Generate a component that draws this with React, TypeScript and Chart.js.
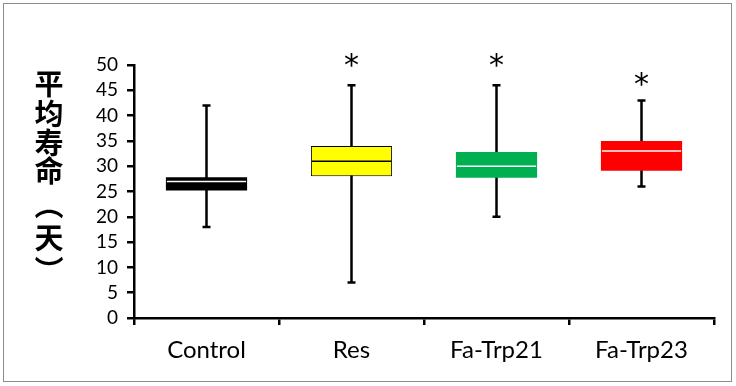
import React, { useEffect, useRef } from "react";
import { Chart, registerables } from "chart.js";
Chart.register(...registerables);

const categories = ["Control", "Res", "Fa-Trp21", "Fa-Trp23"];
const whiskerMin = [18, 7, 20, 26];
const q1 = [25.2, 28, 27.7, 29.1];
const median = [27, 31, 30, 33];
const q3 = [27.8, 34, 32.8, 35];
const whiskerMax = [42, 46, 46, 43];
const sigMarks = ["", "*", "*", "*"];
const sigY = [null, 51, 51, 47.2];
const yTicks = [0, 5, 10, 15, 20, 25, 30, 35, 40, 45, 50];
const yTitle = "平均寿命（天）";

const boxColors = ["#000000", "#FFFF00", "#00B050", "#FF0000"];
const boxBorders = ["#000000", "#000000", "#00B050", "#FF0000"];
const boxBorderWidths = [0, 1, 0, 0];
const medianColors = ["#FFFFFF", "#000000", "#FFFFFF", "#FFFFFF"];

const LABEL_FONT = "Lato, 'Open Sans', sans-serif";

const boxPlugin = {
  id: "boxExtras",
  beforeDraw(chart: any) {
    const ctx = chart.ctx;
    ctx.save();
    ctx.fillStyle = "#ffffff";
    ctx.fillRect(0, 0, chart.width, chart.height);
    ctx.strokeStyle = "#8c8c8c";
    ctx.lineWidth = 1;
    ctx.strokeRect(3.5, 3.5, 728, 378);
    // vertical y-axis title, upright stacked characters
    const chars = Array.from(yTitle);
    const centers = [84, 114, 143, 171, 205, 238, 270];
    ctx.fillStyle = "#000000";
    ctx.font = "bold 29px 'Noto Sans CJK SC', sans-serif";
    ctx.textAlign = "center";
    ctx.textBaseline = "middle";
    chars.forEach((ch, i) => {
      const cy = centers[i];
      if (ch === "（" || ch === "）") {
        ctx.save();
        ctx.translate(49, cy);
        ctx.rotate(Math.PI / 2);
        ctx.fillText(ch, 0, 0);
        ctx.restore();
      } else {
        ctx.fillText(ch, 49, cy);
      }
    });
    ctx.restore();
  },
  beforeDatasetsDraw(chart: any) {
    const ctx = chart.ctx;
    const xs = chart.scales.x;
    const ys = chart.scales.y;
    ctx.save();
    ctx.strokeStyle = "#000000";
    ctx.lineWidth = 2.5;
    categories.forEach((_, i) => {
      const x = xs.getPixelForValue(i);
      const yMin = ys.getPixelForValue(whiskerMin[i]);
      const yMax = ys.getPixelForValue(whiskerMax[i]);
      ctx.beginPath();
      ctx.moveTo(x, yMin);
      ctx.lineTo(x, yMax);
      ctx.moveTo(x - 4, yMin);
      ctx.lineTo(x + 4, yMin);
      ctx.moveTo(x - 4, yMax);
      ctx.lineTo(x + 4, yMax);
      ctx.stroke();
    });
    ctx.restore();
  },
  afterDatasetsDraw(chart: any) {
    const ctx = chart.ctx;
    const xs = chart.scales.x;
    const ys = chart.scales.y;
    const meta = chart.getDatasetMeta(0);
    ctx.save();
    categories.forEach((_, i) => {
      const bar = meta.data[i] as any;
      const x = xs.getPixelForValue(i);
      const half = bar.width / 2;
      const ym = ys.getPixelForValue(median[i]);
      ctx.strokeStyle = medianColors[i];
      ctx.lineWidth = 1.5;
      ctx.beginPath();
      ctx.moveTo(x - half + 1, ym);
      ctx.lineTo(x + half - 1, ym);
      ctx.stroke();
      if (sigMarks[i] && sigY[i] != null) {
        ctx.font = "30px 'DejaVu Sans', sans-serif";
        ctx.fillStyle = "#000000";
        ctx.textAlign = "center";
        ctx.textBaseline = "alphabetic";
        const m = ctx.measureText(sigMarks[i]);
        const cy = ys.getPixelForValue(sigY[i] as number);
        const off = (m.actualBoundingBoxAscent - m.actualBoundingBoxDescent) / 2;
        ctx.fillText(sigMarks[i], x, cy + off);
      }
    });
    ctx.restore();
  },
};

export default function App() {
  const ref = useRef<HTMLCanvasElement | null>(null);
  useEffect(() => {
    document.body.style.margin = "0";
    const canvas = ref.current!;
    const chart = new Chart(canvas, {
      type: "bar",
      data: {
        labels: categories,
        datasets: [
          {
            data: categories.map((_, i) => [q1[i], q3[i]]) as any,
            backgroundColor: boxColors,
            borderColor: boxBorders,
            borderWidth: boxBorderWidths,
            borderSkipped: false,
            barPercentage: 0.56,
            categoryPercentage: 1,
          },
        ],
      },
      options: {
        animation: false,
        responsive: false,
        devicePixelRatio: 1,
        layout: { padding: { top: 65, right: 22, left: 0, bottom: 0 } },
        plugins: { legend: { display: false }, tooltip: { enabled: false } },
        scales: {
          x: {
            offset: true,
            grid: {
              offset: true,
              drawOnChartArea: false,
              drawTicks: true,
              tickLength: 7,
              tickColor: "#000000",
              tickWidth: 2.5,
              lineWidth: 2.5,
              color: "#000000",
            },
            border: { display: true, color: "#000000", width: 2.5 },
            ticks: {
              color: "#000000",
              font: { family: LABEL_FONT, size: 24 },
              padding: 11,
              maxRotation: 0,
              autoSkip: false,
            },
            afterFit(scale: any) {
              scale.height = 68;
            },
          },
          y: {
            min: 0,
            max: 50,
            grid: {
              drawOnChartArea: false,
              drawTicks: true,
              tickLength: 7,
              tickColor: "#000000",
              tickWidth: 2.5,
              lineWidth: 2.5,
              color: "#000000",
            },
            border: { display: true, color: "#000000", width: 2.5 },
            ticks: {
              color: "#000000",
              font: { family: LABEL_FONT, size: 19 },
              padding: 9,
              autoSkip: false,
            },
            afterBuildTicks(scale: any) {
              scale.ticks = yTicks.map((v) => ({ value: v }));
            },
            afterFit(scale: any) {
              scale.width = 134;
            },
          },
        },
      },
      plugins: [boxPlugin],
    });
    return () => chart.destroy();
  }, []);
  return (
    <div style={{ width: 736, height: 386 }}>
      <canvas ref={ref} width={736} height={386} style={{ display: "block" }} />
    </div>
  );
}
